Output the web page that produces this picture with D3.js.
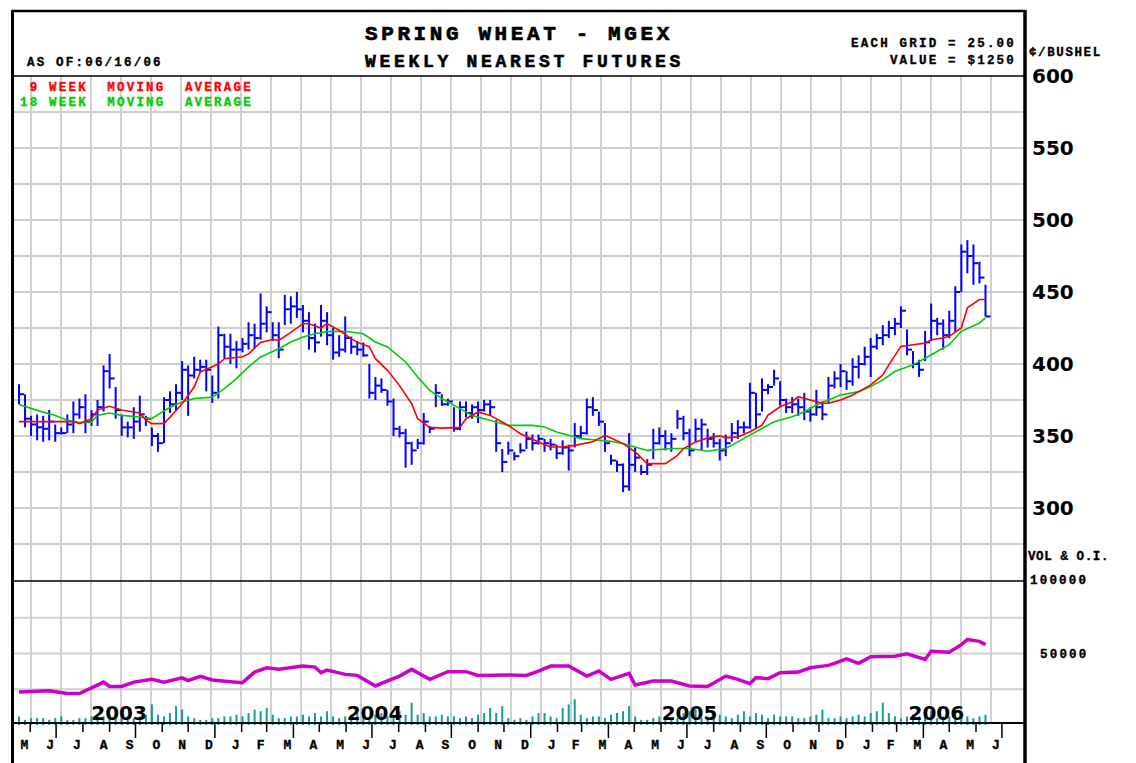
<!DOCTYPE html>
<html>
<head>
<meta charset="utf-8">
<script src="https://cdn.jsdelivr.net/npm/d3@7"></script>
<style>
  body { margin: 0; background: #fff; }
  .small { font-family: "Liberation Mono", monospace; font-weight: bold; font-size: 12.5px; letter-spacing: 2.2px; stroke: currentColor; stroke-width: 0.35px; }
  .big { font-family: "DejaVu Sans", sans-serif; font-weight: bold; font-size: 20px; }
</style>
</head>
<body>
<svg id="chart" width="1136" height="763"></svg>
<script>
// weekly bars, one per week from 19 May 2003 to 12 Jun 2006
const highs = [386,379,364,365,364,368,358,356,365,374, 376,379,368,375,399,407,384,365,360,370,
  378,364,356,352,377,381,386,402,399,405, 403,403,392,426,421,421,416,418,429,428,
  449,440,429,429,448,447,450,441,436,428, 441,436,425,420,433,419,416,415,400,391,
  390,382,376,357,355,346,348,366,357,386, 379,376,370,374,374,372,374,375,375,361,
  341,346,339,345,353,351,351,348,348,344, 347,344,359,357,376,377,367,359,337,333,
  331,352,342,330,334,355,356,354,352,368, 364,355,362,362,355,352,348,351,359,361,
  360,387,380,390,386,396,388,376,377,376, 380,370,382,374,391,395,400,395,404,406,
  412,418,421,427,430,432,440,424,409,403, 423,442,432,431,437,454,483,486,483,471, 455];
const lows = [372,356,350,347,346,347,346,351,352,352, 362,352,357,357,367,383,362,350,349,348,
  353,357,343,339,345,366,368,375,364,390, 394,381,373,376,404,400,397,408,410,411,
  417,422,416,404,427,428,432,422,410,408, 419,413,403,405,408,407,406,405,376,375,
  380,371,350,349,328,330,341,344,352,370, 371,371,353,354,363,362,359,367,364,339,
  325,337,333,338,341,340,344,339,340,334, 337,326,342,348,351,364,357,339,330,325,
  311,312,325,323,323,334,344,340,339,355, 347,336,346,340,342,342,333,336,346,348,
  352,355,355,367,379,385,371,366,366,364, 361,360,364,361,373,383,384,382,385,390,
  399,391,410,413,418,420,425,406,397,391, 402,416,420,410,418,422,450,463,455,456, 433];
const closes = [379,362,358,356,355,360,352,352,358,365, 370,360,365,370,395,390,368,356,356,360,
  365,362,350,345,375,372,380,396,392,396, 398,396,380,420,412,410,410,414,420,418,
  428,436,420,410,438,440,438,430,418,415, 430,420,408,410,418,412,410,406,380,385,
  382,374,355,352,345,340,345,360,355,380, 372,374,355,370,366,370,368,372,370,345,
  332,340,336,340,348,345,348,345,344,338, 342,340,350,352,370,368,360,345,333,330,
  315,330,335,325,330,345,350,345,348,362, 352,340,355,358,348,345,340,345,352,356,
  356,380,365,382,384,390,375,370,372,370, 367,365,370,365,385,390,395,388,398,400,
  405,412,418,420,425,428,437,410,400,396, 415,430,428,420,430,450,478,475,470,460, 433];

// moving averages (week index, cents)
const ma9Weeks = [0,6,9,10,12,13,15,17,19,20,21,22,24,25,27,29,30,33,34,37,38,40,42,43,45,47,48,50,51,53,55,56,58,59,
  61,63,65,66,68,70,73,74,76,78,80,81,83,86,88,90,92,95,97,98,100,102,104,107,109,110,112,114,116,117,119,121,123,124,
  126,128,129,131,133,134,136,138,139,141,143,144,146,148,150,151,153,154,156,157,159,160];
const ma9Vals = [360,360,360,358.6,362,368,370.6,368,366.7,366,361,358.6,358.6,363,372.4,384,394.4,400,403.7,405,407,415,417,416.4,422,428,428,425,428,423.4,417.6,415,412,403.7,
  395.6,385,372.4,362,356,355.5,356,362,366.7,364.3,359.7,357.4,351.6,345.8,342.4,342.4,343.5,346,350.5,348.6,344.7,339,330.8,330.8,336.6,341.3,345.9,348.7,350.1,348.7,349.4,353,357.5,364.5,
  370.3,373.8,377.3,375,372.7,372.7,375,378.5,380.8,385.5,392.4,399.4,412.2,413.4,414.5,416.9,418,419.2,425,439,444.8,444.8];
const ma18Weeks = [0,3,6,8,10,12,13,15,17,20,22,23,25,27,29,32,34,36,38,40,43,45,47,49,51,54,57,59,61,64,66,68,70,73,75,77,79,81,
  85,87,89,91,93,96,98,100,102,104,108,111,114,117,119,121,123,125,128,130,132,134,136,139,141,143,145,148,150,152,154,156,159,160];
const ma18Vals = [371.8,367.8,364.3,361,359.3,359.7,364.3,366,364.3,363.2,362,364.8,370,373.6,376,377,382.9,389.8,398,404.9,410.6,415.3,418.8,421,422.5,422.7,421,415.3,411.8,401.4,391,381.7,376,369,364.3,362,359.7,357.4,
  357.4,356.2,352.8,350.5,348.2,347,346.3,344.7,342.4,340,341.3,341.3,339.4,341.3,345.9,350.6,355.2,359.9,363.4,366.8,371.5,375,378.5,380.8,384.3,389,394.8,399.4,404,408.7,413.4,422.7,428.5,432];

// open interest (week index, contracts) and weekly volume (contracts)
const oiWeeks = [0,5,8,10,12,14,15,17,19,22,24,27,28,30,32,35,37,39,41,43,47,49,50,51,54,56,59,61,63,65,68,71,74,76,81,84,86,88,91,94,96,98,
  101,102,105,108,111,114,117,119,121,122,124,126,129,131,134,135,137,139,141,145,147,150,151,154,156,157,159,160];
const oiVals = [23000,24000,22000,22000,26000,30000,27000,27000,30000,32000,30000,33000,31000,34000,31500,30300,29600,37000,40000,39000,41200,40500,36600,38400,35400,34700,27300,30800,34200,38900,31900,37300,37300,34700,34900,34700,37700,41200,41200,34200,37700,31900,
  36100,28000,30800,30800,27300,26900,34200,31900,28900,33100,32400,36600,37000,40000,41700,43100,46300,43100,47700,48100,49800,45800,51600,50900,56200,59700,58500,56200];
const volume = [5,3,4,4,4,3,4,5,3,3, 4,4,5,4,5,6,4,4,5,4, 5,6,12,6,5,7,11,9,5,4, 3,3,4,4,5,5,6,5,7,9,
  8,10,6,4,4,5,5,6,5,7, 5,8,5,4,5,6,7,5,4,6, 7,5,6,8,6,13,6,7,5,5, 6,5,5,4,5,4,6,7,10,7,
  11,4,3,4,3,5,7,7,5,4, 10,12,15,6,4,5,5,4,6,7, 8,11,5,3,3,4,5,3,4,4, 7,8,9,4,5,5,6,5,4,6,
  8,5,7,6,4,6,5,5,5,4, 4,5,6,9,4,4,5,4,5,6, 5,7,8,13,7,5,4,5,6,5, 7,8,4,5,5,9,6,5,4,5, 6].map(v => v * 1000);

const priceTicks = [300, 350, 400, 450, 500, 550, 600];
const monthLetters = ["J","F","M","A","M","J","J","A","S","O","N","D"];
const yearLabels = [[2003, new Date(2003, 8, 12)], [2004, new Date(2004, 6, 4)], [2005, new Date(2005, 6, 4)], [2006, new Date(2006, 3, 16)]];

const svg = d3.select("#chart");
const first = new Date(2003, 4, 19), last = new Date(2006, 5, 12);
const weeks = d3.timeMonday.range(first, new Date(2006, 5, 13));

const x = d3.scaleTime().domain([first, last]).range([19, 985.5]);
const y = d3.scaleLinear().domain([250, 600]).range([580, 76]);
const yVol = d3.scaleLinear().domain([0, 100000]).range([725, 582]);
const wx = w => x(weeks[w]);

// grid
const grid = svg.append("g").attr("stroke", "#cfcfcf").attr("stroke-width", 2);
d3.range(31, 1000, 30).forEach(gx => {
    grid.append("line").attr("x1", gx).attr("x2", gx).attr("y1", 76).attr("y2", 723);
});
d3.range(275, 600, 25).forEach(p => {
    grid.append("line").attr("x1", 12).attr("x2", 1024).attr("y1", y(p)).attr("y2", y(p));
});
[25000, 50000, 75000].forEach(v => {
    grid.append("line").attr("x1", 12).attr("x2", 1024).attr("y1", yVol(v)).attr("y2", yVol(v));
});

// volume bars
svg.append("g").selectAll("line").data(volume).enter().append("line")
    .attr("x1", (d, i) => wx(i)).attr("x2", (d, i) => wx(i))
    .attr("y1", yVol(0)).attr("y2", d => yVol(d * 1.2))
    .attr("stroke", "#129c9c").attr("stroke-width", 2);

// year labels
svg.append("g").selectAll("text").data(yearLabels).enter().append("text")
    .attr("class", "big").attr("text-anchor", "middle")
    .attr("x", d => x(d[1])).attr("y", 720).text(d => d[0]);

// open interest
svg.append("path").datum(oiWeeks)
    .attr("fill", "none").attr("stroke", "#cc00cc").attr("stroke-width", 3.5)
    .attr("d", d3.line().x(w => wx(w)).y((w, i) => yVol(oiVals[i])));

// price bars
const bars = svg.append("g").attr("stroke", "#0000ff").attr("stroke-width", 2);
weeks.forEach((wk, i) => {
    bars.append("line").attr("x1", x(wk)).attr("x2", x(wk)).attr("y1", y(highs[i])).attr("y2", y(lows[i]));
    bars.append("line").attr("x1", x(wk)).attr("x2", x(wk) + 5).attr("y1", y(closes[i])).attr("y2", y(closes[i]));
});

// moving averages
svg.append("path").datum(ma18Weeks)
    .attr("fill", "none").attr("stroke", "#00cc00").attr("stroke-width", 1.6)
    .attr("d", d3.line().x(w => wx(w)).y((w, i) => y(ma18Vals[i])));
svg.append("path").datum(ma9Weeks)
    .attr("fill", "none").attr("stroke", "#ff0000").attr("stroke-width", 1.6)
    .attr("d", d3.line().x(w => wx(w)).y((w, i) => y(ma9Vals[i])));

// title box
svg.append("rect").attr("x", 13).attr("y", 12).attr("width", 1010).attr("height", 63).attr("fill", "#fff");
svg.append("text").attr("x", 365).attr("y", 40).attr("stroke", "#000").attr("stroke-width", 0.7)
    .style("font-family", "Liberation Mono").style("font-weight", "bold").style("font-size", "21px").style("letter-spacing", "3.6px")
    .text("SPRING WHEAT - MGEX");
svg.append("text").attr("x", 365).attr("y", 67).attr("stroke", "#000").attr("stroke-width", 0.6)
    .style("font-family", "Liberation Mono").style("font-weight", "bold").style("font-size", "18px").style("letter-spacing", "3.7px")
    .text("WEEKLY NEAREST FUTURES");
svg.append("text").attr("class", "small").attr("x", 27).attr("y", 66).text("AS OF:06/16/06");
svg.append("text").attr("class", "small").attr("x", 1016).attr("y", 47).attr("text-anchor", "end").text("EACH GRID = 25.00");
svg.append("text").attr("class", "small").attr("x", 1016).attr("y", 64).attr("text-anchor", "end").text("VALUE = $1250");

// legend
svg.append("text").attr("class", "small").attr("x", 20).attr("y", 91).attr("fill", "#ff0000").style("color", "#ff0000")
    .style("white-space", "pre").text(" 9 WEEK  MOVING  AVERAGE");
svg.append("text").attr("class", "small").attr("x", 20).attr("y", 106).attr("fill", "#00cc00").style("color", "#00cc00")
    .style("white-space", "pre").text("18 WEEK  MOVING  AVERAGE");

// frame lines
const frame = svg.append("g").attr("stroke", "#000");
frame.append("line").attr("x1", 12).attr("x2", 1025).attr("y1", 11).attr("y2", 11).attr("stroke-width", 2.5);
frame.append("line").attr("x1", 12).attr("x2", 1024).attr("y1", 76).attr("y2", 76).attr("stroke-width", 1.5);
frame.append("line").attr("x1", 12).attr("x2", 1024).attr("y1", 581).attr("y2", 581).attr("stroke-width", 1.5);
frame.append("line").attr("x1", 12).attr("x2", 1024).attr("y1", 723).attr("y2", 723).attr("stroke-width", 2);
frame.append("line").attr("x1", 12.5).attr("x2", 12.5).attr("y1", 10).attr("y2", 763).attr("stroke-width", 3);
frame.append("line").attr("x1", 1025).attr("x2", 1025).attr("y1", 10).attr("y2", 763).attr("stroke-width", 3.5);

// month ticks and labels
const months = d3.timeMonth.range(new Date(2003, 5, 1), new Date(2006, 6, 2));
months.forEach(m => {
    const long = m.getMonth() % 3 === 0;
    svg.append("line").attr("x1", x(m)).attr("x2", x(m)).attr("y1", 723).attr("y2", long ? 738 : 732)
        .attr("stroke", "#000").attr("stroke-width", 1.5);
    const prev = d3.timeMonth.offset(m, -1).getMonth();
    svg.append("text").attr("class", "small").style("letter-spacing", "0px").style("font-size", "13px")
        .attr("x", x(m) - 2).attr("y", 749).attr("text-anchor", "end").text(monthLetters[prev]);
});

// right axis
svg.append("g").selectAll("text").data(priceTicks).enter().append("text")
    .attr("class", "big").attr("x", 1032).attr("y", d => y(d) + 7).text(d => d);
svg.append("text").attr("class", "small").style("letter-spacing", "1.6px").attr("x", 1029).attr("y", 56).text("¢/BUSHEL");
svg.append("text").attr("class", "small").style("letter-spacing", "0.6px").attr("x", 1028).attr("y", 560).text("VOL & O.I.");
svg.append("text").attr("class", "small").attr("x", 1030).attr("y", 584).text("100000");
svg.append("text").attr("class", "small").attr("x", 1040).attr("y", 658).text("50000");
</script>
</body>
</html>
